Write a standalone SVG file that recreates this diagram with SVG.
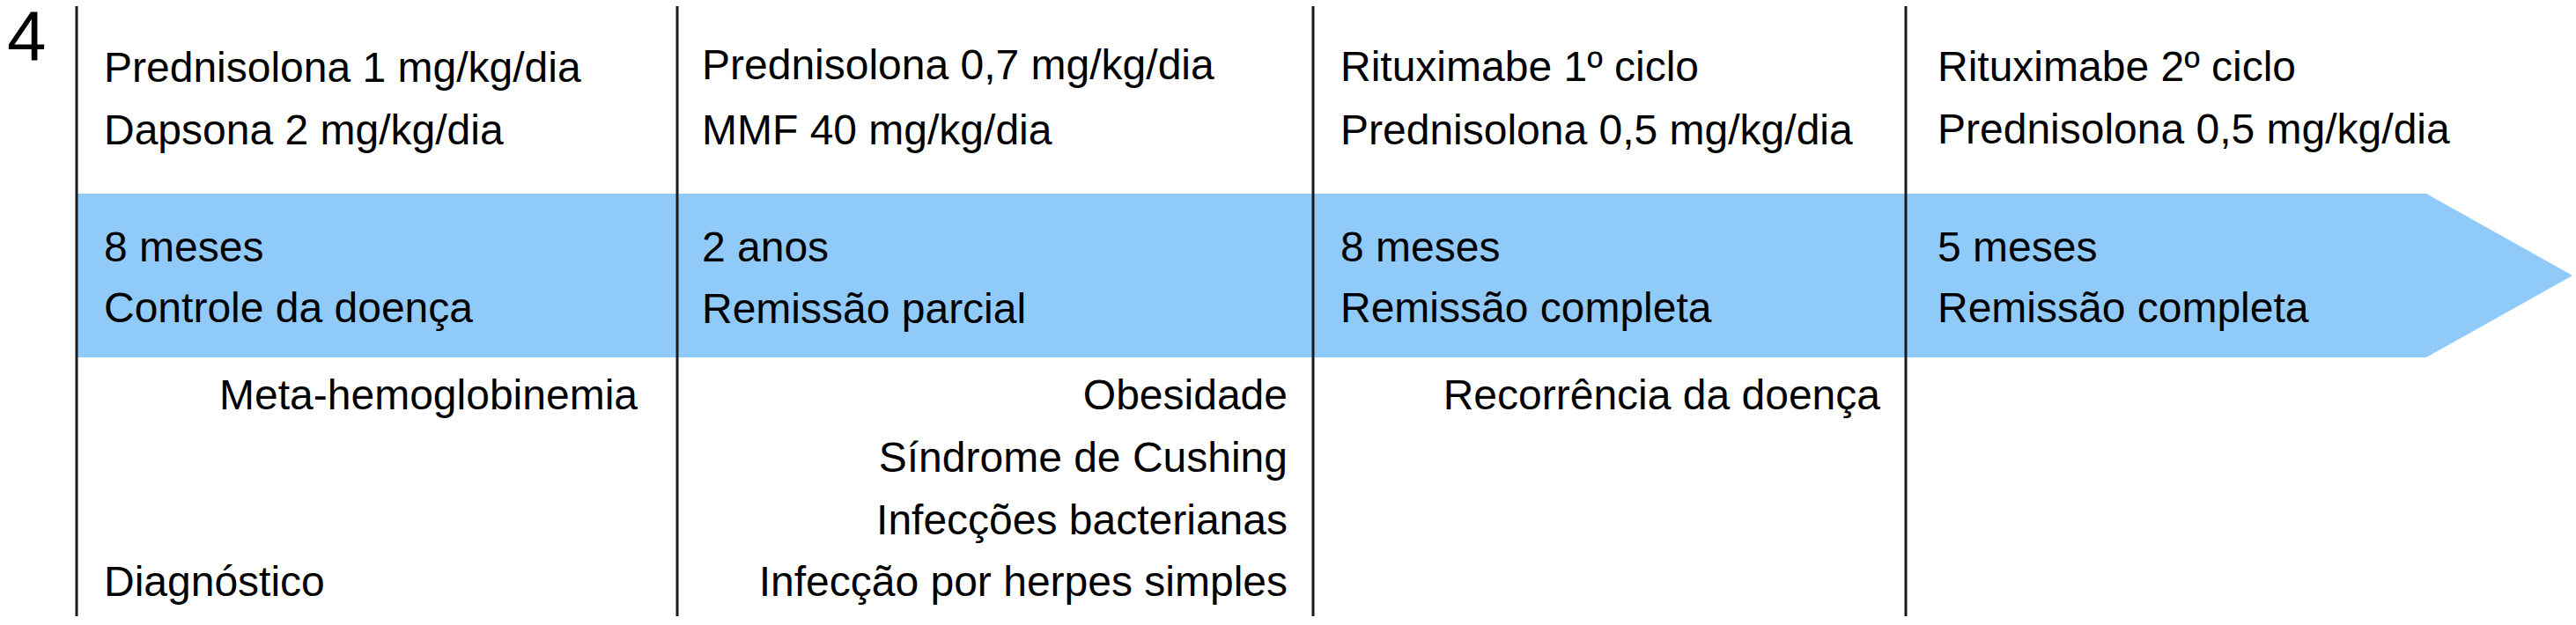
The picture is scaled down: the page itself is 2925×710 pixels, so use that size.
<svg xmlns="http://www.w3.org/2000/svg" width="2925" height="710" viewBox="0 0 2925 710">
<style>
text{font-family:"Liberation Sans",Arial,Helvetica,sans-serif;font-size:48px;fill:#000}
.r{text-anchor:end}
.big{font-size:80px}
.div{stroke:#1a1a1a;stroke-width:3;fill:none}
.band{fill:#90CAF9}
</style>
<rect width="2925" height="710" fill="#fff"/>
<g id="timeline-arrow">
<polygon class="band" points="86,220 2755,220 2921,313 2755,406 86,406"/>
</g>
<g id="dividers">
<line class="div" x1="87" y1="7" x2="87" y2="700"/>
<line class="div" x1="769" y1="7" x2="769" y2="700"/>
<line class="div" x1="1491" y1="7" x2="1491" y2="700"/>
<line class="div" x1="2164" y1="7" x2="2164" y2="700"/>
</g>
<g id="panel-label">
<text class="big" x="8" y="68">4</text>
</g>
<g id="phase1">
<text x="118" y="93">Prednisolona 1 mg/kg/dia</text>
<text x="118" y="164">Dapsona 2 mg/kg/dia</text>
<text x="118" y="297">8 meses</text>
<text x="118" y="366">Controle da doença</text>
<text class="r" x="724" y="465">Meta-hemoglobinemia</text>
<text x="118" y="677">Diagnóstico</text>
</g>
<g id="phase2">
<text x="797" y="90">Prednisolona 0,7 mg/kg/dia</text>
<text x="797" y="164">MMF 40 mg/kg/dia</text>
<text x="797" y="297">2 anos</text>
<text x="797" y="367">Remissão parcial</text>
<text class="r" x="1462" y="465">Obesidade</text>
<text class="r" x="1462" y="536">Síndrome de Cushing</text>
<text class="r" x="1462" y="607">Infecções bacterianas</text>
<text class="r" x="1462" y="677">Infecção por herpes simples</text>
</g>
<g id="phase3">
<text x="1522" y="92">Rituximabe 1º ciclo</text>
<text x="1522" y="164">Prednisolona 0,5 mg/kg/dia</text>
<text x="1522" y="297">8 meses</text>
<text x="1522" y="366">Remissão completa</text>
<text class="r" x="2135" y="465">Recorrência da doença</text>
</g>
<g id="phase4">
<text x="2200" y="92">Rituximabe 2º ciclo</text>
<text x="2200" y="163">Prednisolona 0,5 mg/kg/dia</text>
<text x="2200" y="297">5 meses</text>
<text x="2200" y="366">Remissão completa</text>
</g>
</svg>
